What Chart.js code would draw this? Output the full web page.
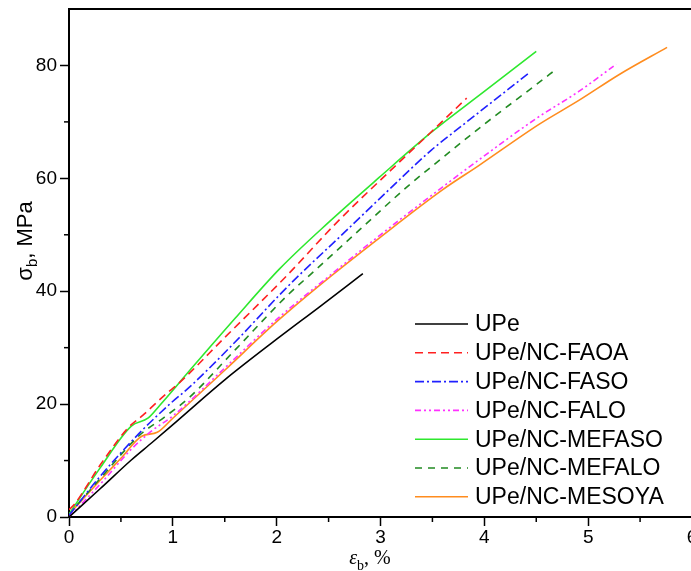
<!DOCTYPE html>
<html><head><meta charset="utf-8">
<script src="https://cdn.jsdelivr.net/npm/chart.js@4/dist/chart.umd.min.js"></script>
<style>html,body{margin:0;padding:0;background:#fff;overflow:hidden}#wrap{width:720px;height:571px}</style>
</head><body><div id="wrap"><canvas id="c" width="720" height="571"></canvas></div>
<script>
// ---- data ----
const seriesLabels = ['UPe','UPe/NC-FAOA','UPe/NC-FASO','UPe/NC-FALO','UPe/NC-MEFASO','UPe/NC-MEFALO','UPe/NC-MESOYA'];
const upeX = [0, 0.3, 0.6, 0.8, 1.04, 1.5, 2.0, 2.41, 2.83];
const upeY = [0, 5.0, 10.1, 13.2, 17.0, 24.3, 31.5, 37.2, 43.1];
const faoaX = [0, 0.05, 0.3, 0.57, 0.71, 0.94, 1.04, 1.5, 2.1, 2.58, 3.16, 3.47, 3.83];
const faoaY = [1.3, 2.2, 9.2, 15.8, 18.0, 21.9, 23.4, 31.8, 42.8, 52.2, 62.5, 67.9, 74.2];
const fasoX = [0, 0.3, 0.68, 0.97, 1.16, 1.6, 2.03, 2.22, 2.6, 3.06, 3.49, 3.79, 4.1, 4.44];
const fasoY = [0.3, 7.2, 14.9, 20.0, 23.0, 31.0, 39.4, 42.9, 49.5, 57.6, 65.0, 69.4, 73.9, 78.8];
const faloX = [0, 0.3, 0.6, 0.8, 1.0, 1.5, 2.0, 2.5, 3.0, 3.6, 3.95, 4.5, 4.91, 5.27];
const faloY = [0, 5.8, 12.0, 15.3, 17.9, 26.4, 35.0, 42.6, 50.0, 58.5, 63.3, 70.6, 75.4, 80.2];
const mefasoX = [0, 0.3, 0.6, 0.76, 0.875, 1.16, 1.6, 2.03, 2.5, 2.99, 3.5, 4.0, 4.5];
const mefasoY = [0.5, 8.7, 16.1, 17.5, 19.8, 25.9, 35.2, 44.0, 52.2, 60.2, 68.3, 75.4, 82.5];
const mefaloX = [0, 0.3, 0.68, 0.92, 1.16, 1.6, 2.1, 2.34, 2.8, 3.25, 3.52, 4.0, 4.5, 4.69];
const mefaloY = [0.5, 6.8, 14.5, 17.7, 21.2, 29.6, 39.2, 43.2, 50.9, 58.4, 62.5, 69.6, 76.6, 79.3];
const mesoyaX = [0, 0.3, 0.5, 0.7, 0.85, 1.0, 1.5, 2.0, 2.41, 3.0, 3.6, 3.95, 4.53, 4.91, 5.3, 5.76];
const mesoyaY = [0.5, 6.5, 10.4, 14.3, 15.0, 17.5, 26.0, 34.6, 41.0, 49.6, 58.0, 62.3, 69.6, 73.8, 78.4, 83.2];
const xTickValues = [0, 1, 2, 3, 4, 5, 6];
const xMinorTicks = [0.5, 1.5, 2.5, 3.5, 4.5, 5.5];
const yTickValues = [0, 20, 40, 60, 80];
const yMinorTicks = [10, 30, 50, 70];

// ---- styles ----
const colors = ['#000000','#ff2020','#2020ff','#ff30ff','#2ee82e','#228b22','#ff8c1e'];
const dashes = [[], [8,5], [9,3,2,3], [6,3,2,3,2,3], [], [7,6], []];
const xs = [upeX, faoaX, fasoX, faloX, mefasoX, mefaloX, mesoyaX];
const ys = [upeY, faoaY, fasoY, faloY, mefasoY, mefaloY, mesoyaY];
const FONT = "'Liberation Sans', Arial, sans-serif";

const datasets = seriesLabels.map((lab, i) => ({
  label: lab,
  data: xs[i].map((x, k) => ({x: x, y: ys[i][k]})),
  borderColor: colors[i],
  backgroundColor: colors[i],
  borderDash: dashes[i],
  borderWidth: 1.6,
  pointRadius: 0,
  cubicInterpolationMode: 'monotone',
  fill: false
}));

const decor = {
  id: 'decor',
  afterDraw(chart) {
    const {ctx, chartArea: a, scales: {x, y}} = chart;
    ctx.save();
    ctx.strokeStyle = '#000';
    ctx.lineWidth = 2;
    ctx.beginPath(); ctx.moveTo(a.left - 1, a.top); ctx.lineTo(a.right + 1, a.top); ctx.stroke();
    ctx.beginPath(); ctx.moveTo(a.right, a.top); ctx.lineTo(a.right, a.bottom); ctx.stroke();
    ctx.lineWidth = 1.5;
    xMinorTicks.forEach(v => { const p = x.getPixelForValue(v); ctx.beginPath(); ctx.moveTo(p, a.bottom); ctx.lineTo(p, a.bottom + 5); ctx.stroke(); });
    yMinorTicks.forEach(v => { const p = y.getPixelForValue(v); ctx.beginPath(); ctx.moveTo(a.left, p); ctx.lineTo(a.left - 5, p); ctx.stroke(); });
    // legend
    const lx = a.left + 346, ly = a.top + 315, step = 28.8;
    chart.data.datasets.forEach((ds, i) => {
      const yy = ly + i * step;
      ctx.strokeStyle = ds.borderColor; ctx.lineWidth = 1.6; ctx.setLineDash(ds.borderDash);
      ctx.beginPath(); ctx.moveTo(lx, yy); ctx.lineTo(lx + 53, yy); ctx.stroke();
      ctx.setLineDash([]);
      ctx.fillStyle = '#000'; ctx.font = '23px ' + FONT; ctx.textBaseline = 'middle'; ctx.textAlign = 'left';
      ctx.fillText(ds.label, lx + 60, yy + 1);
    });
    // x title
    ctx.fillStyle = '#000'; ctx.textBaseline = 'alphabetic'; ctx.textAlign = 'left';
    const serif = "'Liberation Serif', 'Times New Roman', serif";
    const p1 = 'ε', p2 = 'b', p3 = ', %';
    ctx.font = 'italic 20px ' + serif; const w1 = ctx.measureText(p1).width;
    ctx.font = '14px ' + serif; const w2 = ctx.measureText(p2).width;
    ctx.font = '20px ' + serif; const w3 = ctx.measureText(p3).width;
    let sx = 370 - (w1 + w2 + w3) / 2; const by = 564;
    ctx.font = 'italic 20px ' + serif; ctx.fillText(p1, sx, by); sx += w1;
    ctx.font = '14px ' + serif; ctx.fillText(p2, sx, by + 6); sx += w2;
    ctx.font = '20px ' + serif; ctx.fillText(p3, sx, by);
    // y title
    ctx.save();
    ctx.translate(32, 241); ctx.rotate(-Math.PI / 2);
    const q1 = 'σ', q2 = 'b', q3 = ', MPa';
    ctx.font = '22px ' + FONT; const v1 = ctx.measureText(q1).width;
    ctx.font = '15px ' + FONT; const v2 = ctx.measureText(q2).width;
    ctx.font = '22px ' + FONT; const v3 = ctx.measureText(q3).width;
    let tx = -(v1 + v2 + v3) / 2;
    ctx.font = '22px ' + FONT; ctx.fillText(q1, tx, 0); tx += v1;
    ctx.font = '15px ' + FONT; ctx.fillText(q2, tx, 5); tx += v2;
    ctx.font = '22px ' + FONT; ctx.fillText(q3, tx, 0);
    ctx.restore();
    ctx.restore();
  }
};

new Chart(document.getElementById('c'), {
  type: 'line',
  data: { datasets },
  plugins: [decor],
  options: {
    responsive: false,
    animation: false,
    events: [],
    layout: { padding: { left: 0, top: 9, right: 28, bottom: 0 } },
    plugins: { legend: { display: false }, tooltip: { enabled: false } },
    scales: {
      x: {
        type: 'linear', min: 0, max: 6,
        afterBuildTicks: s => { s.ticks = xTickValues.map(v => ({value: v})); },
        afterFit: s => { s.height = 54; s.paddingLeft = 0; s.paddingRight = 0; },
        border: { display: true, color: '#000', width: 2 },
        grid: { drawOnChartArea: false, drawTicks: true, tickLength: 9, color: '#000', tickWidth: 1.5 },
        ticks: { color: '#000', font: { family: FONT, size: 19 }, padding: 0, maxRotation: 0, autoSkip: false }
      },
      y: {
        type: 'linear', min: 0, max: 90,
        afterBuildTicks: s => { s.ticks = yTickValues.map(v => ({value: v})); },
        afterFit: s => { s.width = 69; s.paddingTop = 0; s.paddingBottom = 0; },
        border: { display: true, color: '#000', width: 2 },
        grid: { drawOnChartArea: false, drawTicks: true, tickLength: 9, color: '#000', tickWidth: 1.5 },
        ticks: { color: '#000', font: { family: FONT, size: 19 }, padding: 3, autoSkip: false }
      }
    }
  }
});
</script>
</body></html>
